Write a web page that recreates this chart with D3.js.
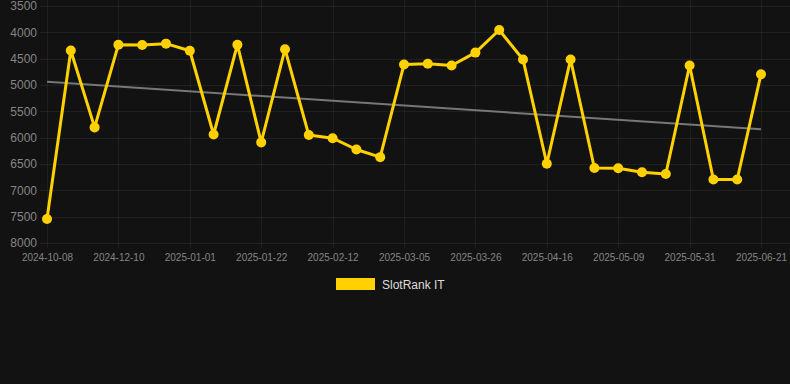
<!DOCTYPE html>
<html>
<head>
<meta charset="utf-8">
<script src="https://cdn.jsdelivr.net/npm/d3@7"></script>
<style>
  html, body { margin: 0; padding: 0; background: #121212; }
  svg { display: block; }
</style>
</head>
<body>
<svg id="CHART"></svg>
<script>
// dates (category axis, every 3rd label shown)
const dates = [
  "2024-10-08", "2024-10-29", "2024-11-19", "2024-12-10", "2024-12-17", "2024-12-24",
  "2025-01-01", "2025-01-08", "2025-01-15", "2025-01-22", "2025-01-29", "2025-02-05",
  "2025-02-12", "2025-02-19", "2025-02-26", "2025-03-05", "2025-03-12", "2025-03-19",
  "2025-03-26", "2025-04-02", "2025-04-09", "2025-04-16", "2025-04-24", "2025-05-01",
  "2025-05-09", "2025-05-16", "2025-05-23", "2025-05-31", "2025-06-07", "2025-06-14",
  "2025-06-21"
];
const ranks = [
  7545, 4345, 5805, 4235, 4240, 4215, 4350, 5940, 4235, 6090, 4320,
  5950, 6010, 6225, 6370, 4610, 4595, 4630, 4385, 3955, 4515, 6495,
  4515, 6575, 6580, 6655, 6690, 4630, 6795, 6795, 4795
];
const yTicks = [3500, 4000, 4500, 5000, 5500, 6000, 6500, 7000, 7500, 8000];
const seriesName = "SlotRank IT";

const width = 790;
const height = 384;
const lineColor = "#FFD100";

const svg = d3.select("#CHART").attr("width", width).attr("height", height);

const x = d3.scalePoint().domain(dates).range([47, 761]);
const y = d3.scaleLinear().domain([3500, 8000]).range([6, 243]);

// grid
const grid = svg.append("g").attr("stroke", "rgba(255,255,255,0.055)").attr("stroke-width", 1);
grid.selectAll("line.h")
  .data(yTicks)
  .join("line")
  .attr("class", "h")
  .attr("x1", 40).attr("x2", width)
  .attr("y1", (d) => Math.round(y(d)) + 0.5)
  .attr("y2", (d) => Math.round(y(d)) + 0.5);
const shown = dates.filter((d, i) => i % 3 === 0);
grid.selectAll("line.v")
  .data(shown)
  .join("line")
  .attr("class", "v")
  .attr("x1", (d) => Math.round(x(d)) + 0.5)
  .attr("x2", (d) => Math.round(x(d)) + 0.5)
  .attr("y1", 0).attr("y2", 248);

// y axis labels
const yAxis = svg.append("g")
  .attr("transform", "translate(37,0)")
  .call(d3.axisLeft(y).tickValues(yTicks).tickSize(0).tickPadding(0).tickFormat(d3.format("d")));
yAxis.select(".domain").remove();
yAxis.selectAll("text")
  .attr("fill", "#858585")
  .style("font-family", "Helvetica, Arial, sans-serif")
  .style("font-size", "12px");

// x axis labels
const xAxis = svg.append("g")
  .attr("transform", "translate(0,254)")
  .call(d3.axisBottom(x).tickValues(shown).tickSize(0).tickPadding(0));
xAxis.select(".domain").remove();
xAxis.selectAll("text")
  .attr("fill", "#858585")
  .style("font-family", "Helvetica, Arial, sans-serif")
  .style("font-size", "10px");

// trend line (least squares over index)
const n = ranks.length;
const mx = d3.mean(ranks, (d, i) => i);
const my = d3.mean(ranks);
const slope = d3.sum(ranks, (d, i) => (i - mx) * (d - my)) / d3.sum(ranks, (d, i) => (i - mx) * (i - mx));
const icpt = my - slope * mx;
svg.append("line")
  .attr("x1", x(dates[0])).attr("y1", y(icpt))
  .attr("x2", x(dates[n - 1])).attr("y2", y(icpt + slope * (n - 1)))
  .attr("stroke", "#777")
  .attr("stroke-width", 2);

// series line
const line = d3.line()
  .x((d, i) => x(dates[i]))
  .y((d) => y(d));
svg.append("path")
  .datum(ranks)
  .attr("fill", "none")
  .attr("stroke", lineColor)
  .attr("stroke-width", 3)
  .attr("stroke-linejoin", "round")
  .attr("d", line);

svg.append("g")
  .selectAll("circle")
  .data(ranks)
  .join("circle")
  .attr("cx", (d, i) => x(dates[i]))
  .attr("cy", (d) => y(d))
  .attr("r", 5)
  .attr("fill", lineColor);

// legend
const legend = svg.append("g").attr("transform", "translate(336,278)");
legend.append("rect")
  .attr("width", 39).attr("height", 12)
  .attr("fill", lineColor);
legend.append("text")
  .attr("x", 46).attr("y", 10.5)
  .attr("fill", "#dddddd")
  .style("font-family", "Helvetica, Arial, sans-serif")
  .style("font-size", "12px")
  .text(seriesName);
</script>
</body>
</html>
